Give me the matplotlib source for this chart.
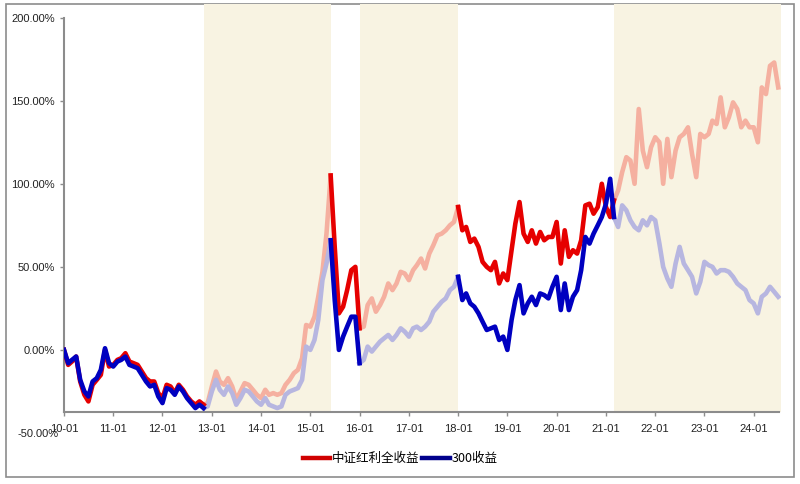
import pandas as pd
import matplotlib.pyplot as plt
import matplotlib.dates as mdates
from matplotlib.patches import Rectangle

plt.rcParams['font.family'] = ['Liberation Sans', 'Noto Sans CJK SC', 'DejaVu Sans']

# monthly points, 2010-01 .. 2024-07
dates = pd.date_range('2010-01-01', periods=175, freq='MS')

# 中证红利全收益 (%)
hongli = [
    0, -9, -7, -4, -19, -27, -31, -21, -18, -15, 0, -10,            # 2010
    -9, -6, -5, -2, -7, -8, -9, -13, -17, -19, -19, -26,            # 2011
    -29, -21, -22, -26, -21, -24, -28, -31, -33, -31, -33, -32,     # 2012
    -22, -13, -19, -21, -17, -22, -30, -25, -20, -21, -24, -27,     # 2013
    -29, -24, -27, -26, -27, -26, -21, -18, -14, -12, -5, 15,       # 2014
    14, 20, 32, 47, 70, 105, 62, 22, 26, 36, 48, 50,                # 2015
    13, 14, 27, 31, 23, 27, 32, 40, 36, 40, 47, 46,                 # 2016
    42, 48, 51, 55, 49, 58, 63, 69, 70, 72, 75, 77,                 # 2017
    86, 72, 74, 65, 67, 62, 53, 50, 48, 53, 40, 46,                 # 2018
    42, 60, 76, 89, 70, 65, 72, 64, 71, 66, 68, 68,                 # 2019
    77, 52, 72, 56, 60, 58, 66, 87, 88, 82, 86, 100,                # 2020
    86, 80, 90, 96, 107, 116, 114, 100, 145, 120, 110, 122,         # 2021
    128, 125, 100, 127, 104, 120, 128, 130, 134, 118, 104, 130,     # 2022
    128, 130, 138, 136, 152, 134, 140, 149, 145, 134, 138, 134,     # 2023
    134, 125, 158, 154, 171, 173, 158,                              # 2024
]

# 300收益 (%)
hs300 = [
    0, -8, -6, -4, -18, -25, -28, -19, -17, -12, 1, -8,             # 2010
    -10, -7, -6, -4, -9, -10, -11, -15, -19, -22, -21, -28,         # 2011
    -32, -23, -24, -27, -22, -25, -29, -32, -35, -33, -35, -34,     # 2012
    -25, -18, -24, -27, -22, -26, -33, -29, -24, -25, -28, -31,     # 2013
    -33, -29, -33, -34, -35, -34, -27, -25, -24, -23, -18, 2,       # 2014
    0, 6, 18, 42, 52, 66, 30, 0, 8, 14, 20, 20,                     # 2015
    -8, -6, 2, -1, 2, 5, 7, 9, 6, 9, 13, 11,                        # 2016
    8, 13, 14, 12, 14, 17, 23, 26, 29, 31, 36, 38,                  # 2017
    44, 30, 34, 28, 26, 22, 17, 12, 13, 14, 6, 8,                   # 2018
    0, 18, 30, 39, 22, 28, 32, 27, 34, 33, 31, 38,                  # 2019
    44, 24, 40, 24, 32, 36, 48, 68, 64, 70, 75, 80,                 # 2020
    88, 103, 80, 74, 87, 84, 78, 74, 72, 78, 75, 80,                # 2021
    78, 64, 50, 43, 38, 52, 62, 52, 48, 44, 34, 41,                 # 2022
    53, 51, 50, 46, 48, 48, 47, 44, 40, 38, 36, 30,                 # 2023
    28, 22, 32, 34, 38, 35, 32,                                     # 2024
]

# shaded periods (index into dates), lines faded inside them
shaded = [(34, 65), (72, 96), (134, 174)]
normal = [(0, 34), (65, 72), (96, 134)]

red, blue = '#E60000', '#0000C0'
red_l, blue_l = '#F5B0A0', '#B7B6E0'
shade_c = '#F8F3E2'

fig = plt.figure(figsize=(8, 4.84), dpi=100)
fig.patches.append(Rectangle((0.007, 0.014), 0.985, 0.977, transform=fig.transFigure,
                             fill=False, edgecolor='#8C8C8C', linewidth=1.2, zorder=-1))
ax = fig.add_axes([0.08, 0.149, 0.896, 0.842])
ax.set_facecolor('none')

end_date = pd.Timestamp('2024-07-20')
for a, b in shaded:
    right = end_date if b == len(dates) - 1 else dates[b]
    ax.axvspan(dates[a], right, color=shade_c, lw=0, zorder=0)

lw = 3.3
for a, b in shaded:
    ax.plot(dates[a:b + 1], hongli[a:b + 1], color=red_l, lw=lw, zorder=2)
    ax.plot(dates[a:b + 1], hs300[a:b + 1], color=blue_l, lw=lw, zorder=3)
for a, b in normal:
    ax.plot(dates[a:b + 1], hongli[a:b + 1], color=red, lw=lw, zorder=4)
    ax.plot(dates[a:b + 1], hs300[a:b + 1], color=blue, lw=lw, zorder=5)

ax.set_xlim(dates[0], end_date)
ax.set_ylim(-37.3, 208)

for s in ['top', 'right']:
    ax.spines[s].set_visible(False)
for s in ['left', 'bottom']:
    ax.spines[s].set_color('#8C8C8C')
    ax.spines[s].set_linewidth(1.5)
ax.spines['left'].set_bounds(-37.3, 200)
ax.spines['bottom'].set_bounds(mdates.date2num(dates[0]),
                               mdates.date2num(pd.Timestamp('2024-07-05')))

ax.set_yticks([0, 50, 100, 150, 200])
ax.set_yticklabels(['0.00%', '50.00%', '100.00%', '150.00%', '200.00%'])
ax.text(-0.008, -50.5, '-50.00%', transform=ax.get_yaxis_transform(), ha='right', va='center',
        fontsize=8, color='#222222', clip_on=False)
ax.xaxis.set_major_locator(mdates.YearLocator())
ax.xaxis.set_major_formatter(mdates.DateFormatter('%y-%m'))
ax.tick_params(axis='both', labelsize=8, colors='#8C8C8C', labelcolor='#222222',
               length=3, width=1)
ax.tick_params(axis='x', pad=6)

h1, = ax.plot([], [], color='#D00000', lw=3.2, label='中证红利全收益')
h2, = ax.plot([], [], color='#00008C', lw=3.2, label='300收益')
fig.legend(handles=[h1, h2], loc='center', bbox_to_anchor=(0.5, 0.052), ncol=2,
           frameon=False, handlelength=2.2, handletextpad=0.15, columnspacing=0.2,
           prop={'family': ['Noto Sans CJK SC', 'DejaVu Sans'], 'size': 9})

plt.savefig('out.png', dpi=100)
